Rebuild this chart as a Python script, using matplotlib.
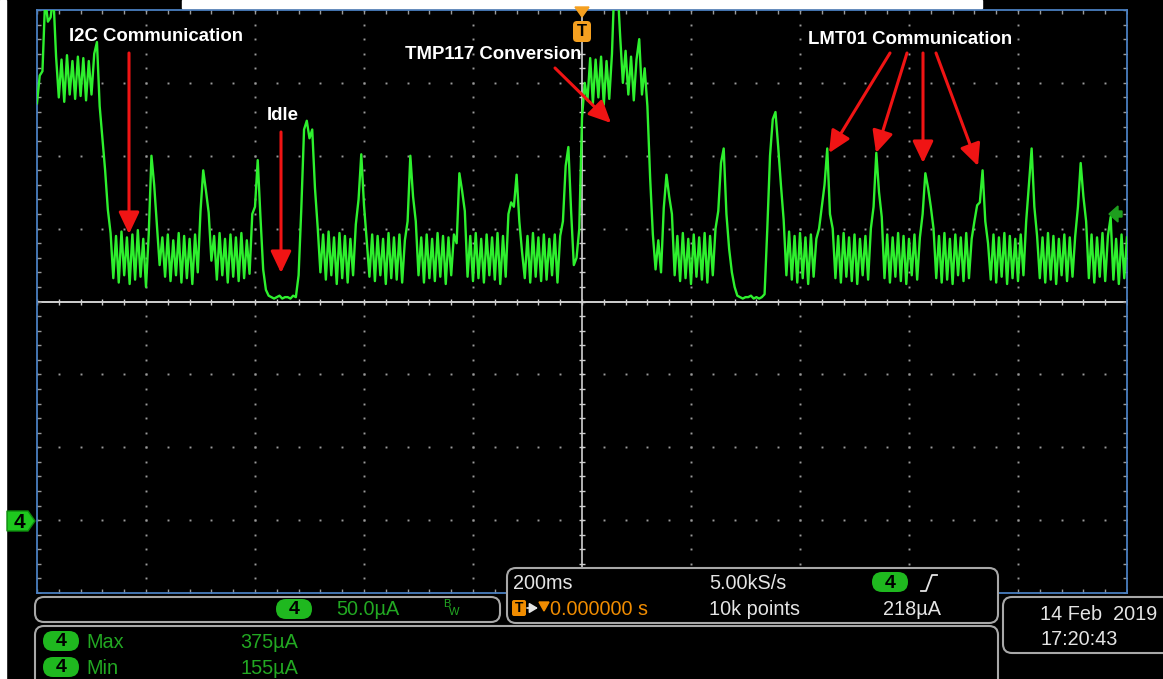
import numpy as np
import matplotlib
matplotlib.use('Agg')
import matplotlib.pyplot as plt
from matplotlib.patches import FancyBboxPatch, Polygon, Rectangle

# scope settings (from the readout)
time_per_div_ms = 200
current_per_div_ua = 50
center_ua = 150

# channel 4 current in uA, one sample every 5 ms
pre_trigger_ua = [
    286, 305, 308, 358, 342, 345, 360,
    318, 290, 316, 287, 319, 292, 315, 289, 318, 291, 317, 288, 315, 292, 320, 328,
    284, 262, 240, 213,
    197, 166, 195, 163, 198, 168, 194, 162, 196, 165, 199, 167, 193, 160,
    196, 250, 230, 202, 175,
    194, 167, 196, 164, 192, 168, 197, 163, 195, 166, 193, 162, 196, 170,
    212, 240, 226, 211, 178,
    195, 165, 197, 168, 193, 163, 196, 167, 194, 164, 197, 166, 192, 169,
    210, 215, 247, 208, 172, 158,
    154, 153, 152, 153, 154, 152, 153, 153, 152, 154, 153,
    168, 214, 268, 274, 262, 268, 228, 201,
    170, 196, 165, 198, 168, 194, 162, 197, 166, 195, 163, 193, 168,
    203, 220, 251, 216, 192,
    167, 196, 164, 195, 168, 193, 162, 197, 166, 194, 165, 196, 163, 192,
    205, 250, 222, 205,
    168, 194, 163, 196, 166, 193, 164, 197, 167, 195, 162, 194, 168, 196,
    190, 238, 226, 212,
    167, 195, 164, 197, 166, 193, 163, 196, 168, 194, 165, 197, 162, 195, 167,
    210, 218, 215, 237, 205, 184,
    166, 195, 163, 197, 167, 194, 164, 196, 165, 193, 168, 196, 163, 195,
    205, 243, 256, 212, 175, 180, 200,
]
post_trigger_ua = [
    276,
    300, 288, 317, 286, 316, 290, 318, 285, 315, 289, 320,
    375, 368, 332, 300, 322, 292, 318, 288, 316, 330, 292, 310, 284,
    235, 196, 172, 192, 170, 214, 237, 222, 210,
    168, 195, 164, 197, 166, 193, 162, 196, 167, 194, 165, 197, 163, 195, 168,
    200, 212, 245, 255, 210, 186, 170, 160,
    154, 153, 152, 153, 153, 154, 152, 153, 152, 153, 155,
    200, 250, 275, 280, 256, 230, 206,
    168, 198, 165, 195, 163, 197, 166, 194, 162, 196, 167, 193,
    200, 215, 230, 255, 210, 200,
    166, 195, 163, 197, 167, 194, 164, 196, 162, 193, 168, 195, 165,
    200, 215, 252, 225, 208,
    166, 196, 163, 194, 167, 197, 164, 195, 162, 193, 168, 196, 165, 194,
    210, 238, 228, 215, 200,
    166, 195, 163, 197, 165, 193, 162, 196, 168, 194, 164, 197, 166, 193,
    205, 216, 218, 240, 205, 190,
    165, 196, 163, 194, 167, 197, 162, 195, 166, 193, 164, 196, 168,
    205, 230, 255, 215, 195,
    166, 194, 163, 197, 165, 195, 162, 193, 168, 196, 164, 194, 167, 195,
    215, 245, 222, 205,
    166, 196, 163, 194, 167, 197, 164, 195, 208, 165, 193, 162, 196, 166, 194,
]

# annotation labels and arrows (screen pixels)
labels = ['I2C Communication', 'Idle', 'TMP117 Conversion', 'LMT01 Communication']
label_pos = [(69, 41), (267, 120), (405, 59), (808, 44)]
arrows = [((129, 53), (129, 234)),
          ((281, 132), (281, 273)),
          ((555, 68), (611, 123)),
          ((890, 53), (829, 153)),
          ((907, 53), (876, 153)),
          ((923, 53), (923, 163)),
          ((936, 53), (978, 166))]

# readout texts
scale_text = '50.0\u00b5A'
meas_names = ['Max', 'Min']
meas_values = ['375\u00b5A', '155\u00b5A']
timebase = '200ms'
sample_rate = '5.00kS/s'
record_len = '10k points'
trig_level = '218\u00b5A'
trig_pos = '0.000000 s'
date_str = '14 Feb  2019'
time_str = '17:20:43'

W, H = 1163, 679
WHITE = '#e4e4e4'
GREEN = '#22a822'
PILL = '#1fb81f'
ORANGE = '#f08c00'
FONT = ['Liberation Sans', 'DejaVu Sans']


def pill(ov, cx, cy, w=36, h=20):
    ov.add_patch(FancyBboxPatch((cx - w / 2, cy - h / 2), w, h,
                                boxstyle='round,pad=0,rounding_size=10',
                                fc=PILL, ec='none'))
    ov.text(cx, cy + 1, '4', color='black', fontsize=14, fontweight='bold',
            ha='center', va='center', family=FONT)


def box(ov, x0, y0, x1, y1):
    ov.add_patch(FancyBboxPatch((x0, y0), x1 - x0, y1 - y0,
                                boxstyle='round,pad=0,rounding_size=9',
                                fc='black', ec='#a8a8a8', lw=1.5))


def main():
    current = np.array(pre_trigger_ua + post_trigger_ua, dtype=float)
    t = np.linspace(-5 * time_per_div_ms, 5 * time_per_div_ms, len(current))

    fig = plt.figure(figsize=(W / 100, H / 100), dpi=100, facecolor='black')
    ax = fig.add_axes([37 / W, 1 - 593 / H, 1090 / W, 583 / H])
    ax.set_facecolor('black')
    x_lo, x_hi = -5 * time_per_div_ms, 5 * time_per_div_ms
    y_lo, y_hi = center_ua - 4 * current_per_div_ua, center_ua + 4 * current_per_div_ua
    ax.set_xlim(x_lo, x_hi)
    ax.set_ylim(y_lo, y_hi)
    ax.set_xticks([])
    ax.set_yticks([])
    for s in ax.spines.values():
        s.set_color('#4a7fc0')
        s.set_linewidth(1.3)

    # graticule
    minor_y = np.arange(y_lo, y_hi + 1, current_per_div_ua / 5)
    minor_x = np.arange(x_lo, x_hi + 1, time_per_div_ms / 5)
    for gx in np.arange(x_lo + time_per_div_ms, x_hi, time_per_div_ms):
        if gx == 0:
            continue
        ax.plot([gx] * len(minor_y), minor_y, ls='none', marker='s', ms=1.4,
                mew=0, color='#9a9a9a')
    for gy in np.arange(y_lo + current_per_div_ua, y_hi, current_per_div_ua):
        if gy == center_ua:
            continue
        ax.plot(minor_x, [gy] * len(minor_x), ls='none', marker='s', ms=1.4,
                mew=0, color='#9a9a9a')
    ax.axhline(center_ua, color='#d0d0d0', lw=1.4)
    ax.axvline(0, color='#d0d0d0', lw=1.2)
    ax.plot(minor_x, [center_ua] * len(minor_x), ls='none', marker='|', ms=5,
            mew=1, color='#d0d0d0')
    ax.plot([0] * len(minor_y), minor_y, ls='none', marker='_', ms=5,
            mew=1, color='#d0d0d0')
    for ex in (x_lo, x_hi):
        ax.plot([ex] * len(minor_y), minor_y, ls='none', marker='_', ms=6,
                mew=1, color='#9a9a9a')
    for ey in (y_lo, y_hi):
        ax.plot(minor_x, [ey] * len(minor_x), ls='none', marker='|', ms=6,
                mew=1, color='#9a9a9a')

    # the trace
    ax.plot(t, current, color='#2ef02e', lw=1.7, zorder=5)

    # overlay in screen pixels for markers, notes and readouts
    ov = fig.add_axes([0, 0, 1, 1])
    ov.set_xlim(0, W)
    ov.set_ylim(H, 0)
    ov.axis('off')
    ov.patch.set_alpha(0)
    ov.set_zorder(10)

    ov.add_patch(Rectangle((0, 0), 6, H, color='white'))
    ov.add_patch(Rectangle((182, 0), 800, 8, color='white'))

    # trigger position marker
    ov.add_patch(Polygon([(575, 7), (589, 7), (582, 17)], closed=True, color='#f5a020'))
    ov.add_patch(FancyBboxPatch((573, 21), 18, 21, boxstyle='round,pad=0,rounding_size=4',
                                fc='#f5a020', ec='none'))
    ov.text(582, 32, 'T', color='black', fontsize=12, fontweight='bold',
            ha='center', va='center', family=FONT)

    # channel ground marker
    ov.add_patch(Polygon([(7, 511), (28, 511), (35, 521), (28, 531), (7, 531)],
                         closed=True, fc='#1ec81e', ec='#0e8a0e', lw=1))
    ov.text(19, 522, '4', color='black', fontsize=15, fontweight='bold',
            ha='center', va='center', family=FONT)

    # trigger level marker
    ov.add_patch(Polygon([(1109, 214), (1118, 206), (1118, 211), (1122, 211),
                          (1122, 217), (1118, 217), (1118, 222)],
                         closed=True, color='#1e9e1e'))

    # annotations
    for lab, (lx, ly) in zip(labels, label_pos):
        ov.text(lx, ly, lab, color='white', fontsize=13.4, fontweight='bold',
                ha='left', va='baseline', family=FONT)
    for tail, tip in arrows:
        ov.annotate('', xy=tip, xytext=tail,
                    arrowprops=dict(arrowstyle='-|>,head_length=0.95,head_width=0.45',
                                    color='#f01414', lw=2.2, mutation_scale=14,
                                    shrinkA=0, shrinkB=0))

    # readout boxes
    box(ov, 507, 568, 998, 623)
    box(ov, 35, 597, 500, 622)
    box(ov, 35, 626, 998, 700)
    box(ov, 1003, 597, 1175, 653)

    fs = 14.3
    # vertical scale
    pill(ov, 294, 609)
    ov.text(336, 615, scale_text, color=GREEN, fontsize=fs, family=FONT, va='baseline')
    ov.text(443, 607, 'B', color=GREEN, fontsize=8, family=FONT, va='baseline')
    ov.text(449, 615, 'W', color=GREEN, fontsize=8, family=FONT, va='baseline')

    # measurements
    for i, (name, val) in enumerate(zip(meas_names, meas_values)):
        cy = 641 + 26 * i
        pill(ov, 61, cy)
        ov.text(86, cy + 7, name, color=GREEN, fontsize=fs, family=FONT, va='baseline')
        ov.text(240, cy + 7, val, color=GREEN, fontsize=fs, family=FONT, va='baseline')

    # horizontal / trigger readout
    ov.text(513, 589, timebase, color=WHITE, fontsize=fs, family=FONT, va='baseline')
    ov.text(709, 589, sample_rate, color=WHITE, fontsize=fs, family=FONT, va='baseline')
    pill(ov, 890, 582)
    ov.plot([921, 926, 932, 937], [591, 591, 575, 575], color=WHITE, lw=1.3)
    ov.add_patch(FancyBboxPatch((512, 600), 14, 16, boxstyle='round,pad=0,rounding_size=2',
                                fc=ORANGE, ec='none'))
    ov.text(519, 608, 'T', color='black', fontsize=10, fontweight='bold',
            ha='center', va='center', family=FONT)
    ov.annotate('', xy=(538, 608), xytext=(527, 608),
                arrowprops=dict(arrowstyle='-|>,head_length=0.5,head_width=0.3',
                                color=WHITE, lw=1.2, mutation_scale=10,
                                shrinkA=0, shrinkB=0))
    ov.add_patch(Polygon([(539, 602), (549, 602), (544, 611)], closed=True, color=ORANGE))
    ov.text(550, 615, trig_pos, color=ORANGE, fontsize=fs, family=FONT, va='baseline')
    ov.text(709, 615, record_len, color=WHITE, fontsize=fs, family=FONT, va='baseline')
    ov.text(883, 615, trig_level, color=WHITE, fontsize=fs, family=FONT, va='baseline')

    # date / time
    ov.text(1040, 620, date_str, color=WHITE, fontsize=fs, family=FONT, va='baseline')
    ov.text(1040, 645, time_str, color=WHITE, fontsize=fs, family=FONT, va='baseline')

    fig.savefig('out.png', dpi=100, facecolor='black')


if __name__ == "__main__":
    main()
